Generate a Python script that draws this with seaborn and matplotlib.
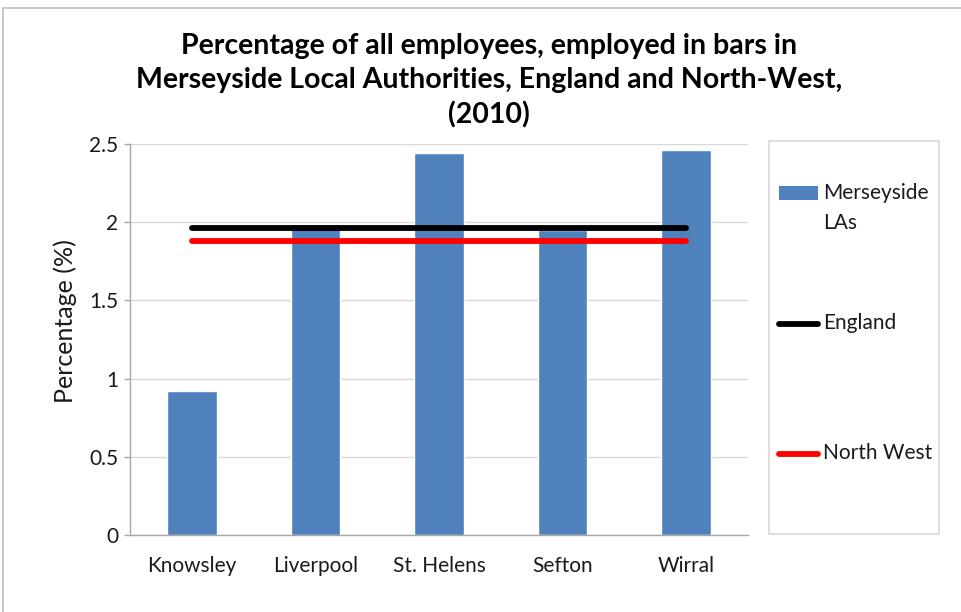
import matplotlib
matplotlib.use("Agg")
import matplotlib.pyplot as plt
from matplotlib.lines import Line2D
from matplotlib.patches import Patch, Rectangle
from matplotlib.legend_handler import HandlerPatch, HandlerLine2D
import seaborn as sns
import pandas as pd

# Share of all employees working in bars, 2010
areas = ["Knowsley", "Liverpool", "St. Helens", "Sefton", "Wirral"]
merseyside_pct = [0.92, 1.99, 2.44, 1.95, 2.46]
england_pct = [1.96, 1.96, 1.96, 1.96, 1.96]
north_west_pct = [1.88, 1.88, 1.88, 1.88, 1.88]

y_ticks = [0, 0.5, 1, 1.5, 2, 2.5]
y_tick_labels = ["0", "0.5", "1", "1.5", "2", "2.5"]

title = ("Percentage of all employees, employed in bars in\n"
         "Merseyside Local Authorities, England and North-West,\n"
         "(2010)")
legend_labels = ["Merseyside\nLAs", "England\n", "North West\n"]

BAR = "#4F81BD"
GRID = "#D9D9D9"
AXIS = "#A6A6A6"
TEXT = "#1a1a1a"

sns.set_theme(style="white")
plt.rcParams["font.family"] = ["Lato", "DejaVu Sans"]

W, H = 961, 612
fig = plt.figure(figsize=(W / 100, H / 100), dpi=100)
fig.patch.set_facecolor("white")


def fx(px):
    return px / W


def fy(py):
    return 1 - py / H


ax = fig.add_axes([fx(130), fy(535), fx(748) - fx(130), fy(144) - fy(535)])

df = pd.DataFrame({"area": areas, "pct": merseyside_pct})
sns.barplot(data=df, x="area", y="pct", color=BAR, saturation=1, width=0.4,
            ax=ax, zorder=2)

sns.lineplot(x=areas, y=england_pct, color="black", linewidth=4.2, ax=ax,
             solid_capstyle="round", zorder=3)
sns.lineplot(x=areas, y=north_west_pct, color="#FF0000", linewidth=4.2, ax=ax,
             solid_capstyle="round", zorder=3)

ax.set_xlim(-0.5, len(areas) - 0.5)
ax.set_ylim(0, 2.5)
ax.set_yticks(y_ticks)
ax.set_yticklabels(y_tick_labels)
ax.yaxis.grid(True, color=GRID, linewidth=1, zorder=0)
ax.set_axisbelow(True)
ax.set_xlabel("")
ax.set_ylabel("Percentage (%)", fontsize=18, color=TEXT)
ax.yaxis.set_label_coords(-0.086, 0.548)

for side in ("top", "right"):
    ax.spines[side].set_visible(False)
for side in ("left", "bottom"):
    ax.spines[side].set_color(AXIS)
    ax.spines[side].set_linewidth(1)
ax.tick_params(axis="y", which="major", left=True, length=4.5, width=1,
               color=AXIS, pad=4, labelsize=15, labelcolor=TEXT)
ax.tick_params(axis="x", which="major", bottom=False, pad=9, labelsize=15,
               labelcolor=TEXT)

fig.text(fx(489), fy(81), title, ha="center", va="center", fontsize=20.5,
         fontweight="bold", color="black", linespacing=1.38)


# legend handles sit on the first line of each two-line label slot
class RaisedPatch(HandlerPatch):
    def __init__(self, shift, **kw):
        super().__init__(**kw)
        self.shift = shift

    def create_artists(self, legend, orig_handle, xdescent, ydescent,
                       width, height, fontsize, trans):
        arts = super().create_artists(legend, orig_handle, xdescent, ydescent,
                                      width, height, fontsize, trans)
        for a in arts:
            a.set_y(a.get_y() + self.shift)
        return arts


class RaisedLine(HandlerLine2D):
    def __init__(self, shift, **kw):
        super().__init__(**kw)
        self.shift = shift

    def create_artists(self, legend, orig_handle, xdescent, ydescent,
                       width, height, fontsize, trans):
        arts = super().create_artists(legend, orig_handle, xdescent, ydescent,
                                      width, height, fontsize, trans)
        for a in arts:
            a.set_ydata([y + self.shift for y in a.get_ydata()])
        return arts


shift = 11
h_bar = Patch(facecolor=BAR, edgecolor="none")
h_eng = Line2D([], [], color="black", linewidth=4.2, solid_capstyle="round")
h_nw = Line2D([], [], color="#FF0000", linewidth=4.2, solid_capstyle="round")

leg = fig.legend([h_bar, h_eng, h_nw], legend_labels, loc="upper left",
                 bbox_to_anchor=(fx(779), fy(183)), frameon=False,
                 fontsize=15, handlelength=1.85, handleheight=0.65,
                 handletextpad=0.25, labelspacing=3.85, borderpad=0,
                 borderaxespad=0,
                 handler_map={h_bar: RaisedPatch(shift),
                              h_eng: RaisedLine(shift),
                              h_nw: RaisedLine(shift)})
for t in leg.get_texts():
    t.set_linespacing(1.62)
    t.set_color(TEXT)

# legend frame
fig.add_artist(Rectangle((fx(769), fy(534)), fx(939) - fx(769), fy(141) - fy(534),
                         transform=fig.transFigure, fill=False,
                         edgecolor=GRID, linewidth=1.2))

# outer chart border (top and left edges)
fig.add_artist(Line2D([fx(3), 1], [fy(8), fy(8)], transform=fig.transFigure,
                      color="#BFBFBF", linewidth=1.2))
fig.add_artist(Line2D([fx(3), fx(3)], [0, fy(8)], transform=fig.transFigure,
                      color="#BFBFBF", linewidth=1.2))

fig.savefig("out.png", dpi=100, facecolor="white")
